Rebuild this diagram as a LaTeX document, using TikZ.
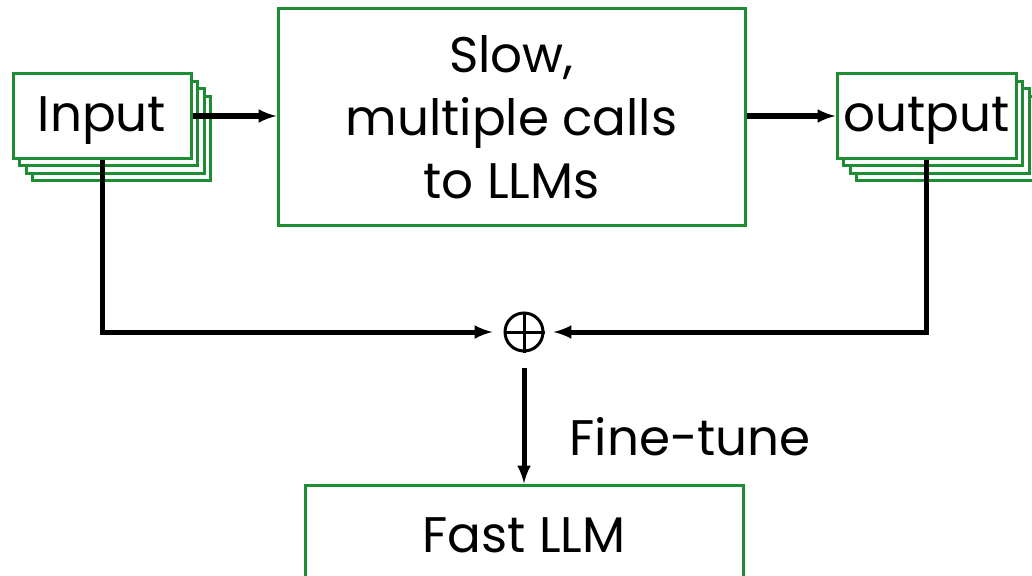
\documentclass[tikz,border=0pt]{standalone}
\usepackage{fontspec}
\setmainfont{Poppins}
\usetikzlibrary{arrows,positioning}
\definecolor{boxgreen}{RGB}{30,140,50}
\tikzset{
  box/.style={draw=boxgreen,line width=3pt,fill=white,inner sep=0pt},
  link/.style={line width=5pt,-latex},
}
\begin{document}
\begin{tikzpicture}[x=1pt,y=-1pt,font=\fontsize{50}{63}\selectfont]
  \useasboundingbox (0,0) rectangle (1032,575);
  \clip (0,0) rectangle (1032,575);
  % stacked copies behind input and output
  \foreach \d in {3,2,1}{
    \draw[box] (13+6.5*\d,74+7.5*\d) rectangle (191+6.5*\d,158+7.5*\d);
    \draw[box] (837+6.5*\d,74+7.5*\d) rectangle (1016+6.5*\d,158+7.5*\d);
  }
  \node[box,minimum width=178pt,minimum height=84pt](input) at (102,116)
    {\raisebox{-5pt}[\height][\depth]{Input}};
  \node[box,minimum width=179pt,minimum height=84pt](output) at (926.5,116)
    {\raisebox{-5pt}[\height][\depth]{output}};
  \node[box,minimum width=467pt,minimum height=216pt,align=center](slow) at (511.5,117)
    {Slow,\\multiple calls\\to LLMs};
  \node[circle,draw,line width=3pt,minimum size=38pt,inner sep=0pt](sum) at (524,332) {};
  \draw[line width=3pt] (sum.north) -- (sum.south) (sum.west) -- (sum.east);
  \node[box,minimum width=438pt,minimum height=100pt](fast) at (524,535) {Fast LLM};
  \node[anchor=west](tune) at (566,437) {Fine-tune};
  \draw[link] (input.east) -- (input.east -| slow.west);
  \draw[link] (slow.east |- output.west) -- (output.west);
  \draw[link,shorten >=11pt] (input.south) |- (sum.west);
  \draw[link,shorten >=9pt] (output.south) |- (sum.east);
  \draw[link,shorten <=15pt] (sum.south) -- (fast.north);
\end{tikzpicture}
\end{document}
